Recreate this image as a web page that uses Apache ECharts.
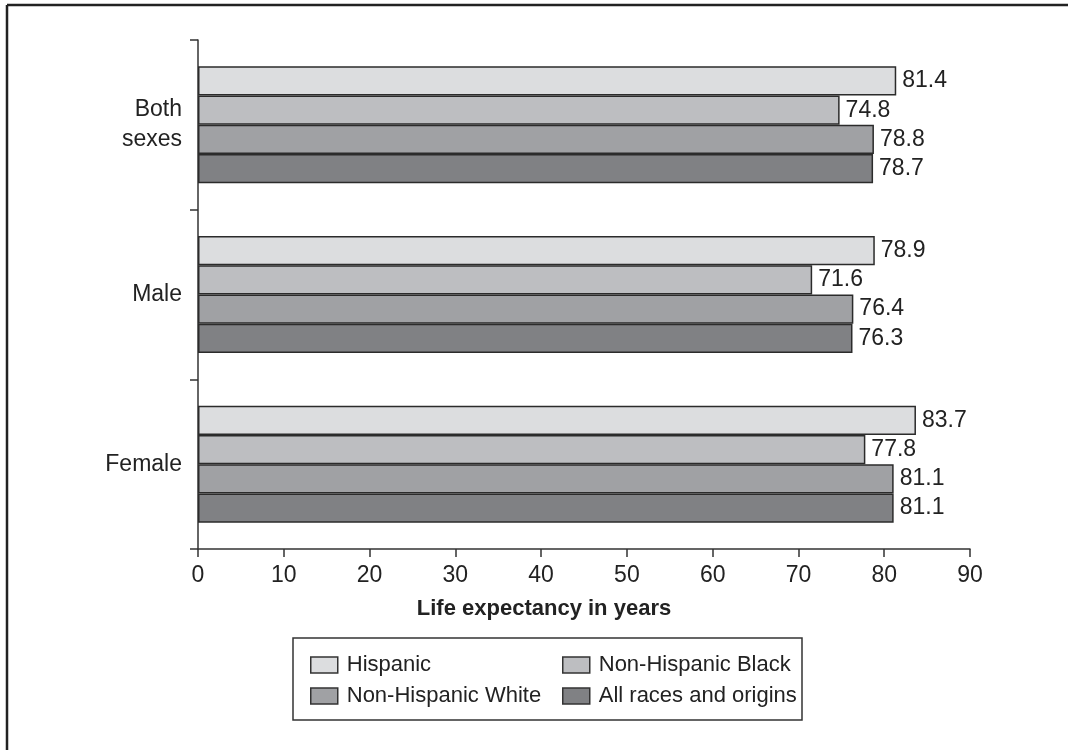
<!DOCTYPE html>
<html>
<head>
<meta charset="utf-8">
<script src="https://cdn.jsdelivr.net/npm/echarts@6/dist/echarts.min.js"></script>
<style>
  html, body { margin: 0; padding: 0; background: #fff; }
  #chart { width: 1068px; height: 750px; }
</style>
</head>
<body>
<div id="chart"></div>
<script>
// categories, top to bottom
let groups = ['Both\nsexes', 'Male', 'Female']
let seriesNames = ['Hispanic', 'Non-Hispanic Black', 'Non-Hispanic White', 'All races and origins']
let hispanic = [81.4, 78.9, 83.7]
let nonHispanicBlack = [74.8, 71.6, 77.8]
let nonHispanicWhite = [78.8, 76.4, 81.1]
let allRaces = [78.7, 76.3, 81.1]
let xTicks = [0, 10, 20, 30, 40, 50, 60, 70, 80, 90]

let values = [hispanic, nonHispanicBlack, nonHispanicWhite, allRaces]
let fills = ['#dcdddf', '#bdbec1', '#a0a1a4', '#808184']
let font = '"Liberation Sans", Arial, Helvetica, sans-serif'
let ink = '#222'

let chart = echarts.init(document.getElementById('chart'))

let series = seriesNames.map((name, i) => {
  return {
    name: name,
    type: 'bar',
    data: values[i],
    barGap: 0,
    barCategoryGap: '31%',
    itemStyle: { color: fills[i], borderColor: '#2b2b2b', borderWidth: 1.5 },
    label: {
      show: true,
      position: 'right',
      distance: 6,
      fontFamily: font,
      fontSize: 23,
      color: ink,
      formatter: p => p.value.toFixed(1)
    },
    emphasis: { disabled: true }
  }
})

let legendCommon = {
  orient: 'vertical',
  icon: 'rect',
  itemWidth: 27,
  itemHeight: 16,
  itemGap: 9,
  itemStyle: { borderColor: '#333', borderWidth: 1.5 },
  textStyle: { fontFamily: font, fontSize: 22, color: ink, padding: [0, 0, 0, 4] },
  selectedMode: false
}

chart.setOption({
  animation: false,
  textStyle: { fontFamily: font },
  grid: { left: 198, right: 98, top: 40, bottom: 201 },
  xAxis: {
    type: 'value',
    min: xTicks[0],
    max: xTicks[xTicks.length - 1],
    interval: 10,
    splitLine: { show: false },
    axisLine: { show: true, lineStyle: { color: '#333', width: 1.5 } },
    axisTick: { show: true, length: 8, lineStyle: { color: '#333', width: 1.5 } },
    axisLabel: { fontFamily: font, fontSize: 23, color: ink, margin: 15 }
  },
  yAxis: {
    type: 'category',
    data: groups,
    inverse: true,
    axisLine: { show: true, lineStyle: { color: '#333', width: 1.5 } },
    axisTick: { show: true, length: 8, alignWithLabel: false, lineStyle: { color: '#333', width: 1.5 } },
    axisLabel: { fontFamily: font, fontSize: 23, lineHeight: 30, color: ink, margin: 16, align: 'right' }
  },
  legend: [
    Object.assign({ left: 305, top: 649, data: [seriesNames[0], seriesNames[2]] }, legendCommon),
    Object.assign({ left: 557, top: 649, data: [seriesNames[1], seriesNames[3]] }, legendCommon)
  ],
  graphic: [
    {
      type: 'line',
      shape: { x1: 7, y1: 5, x2: 1068, y2: 5 },
      style: { stroke: '#222', lineWidth: 2.5 }
    },
    {
      type: 'line',
      shape: { x1: 7, y1: 5, x2: 7, y2: 750 },
      style: { stroke: '#222', lineWidth: 2.5 }
    },
    {
      type: 'text',
      x: 544,
      y: 609,
      style: {
        text: 'Life expectancy in years',
        fontFamily: font,
        fontSize: 22,
        fontWeight: 'bold',
        fill: ink,
        align: 'center',
        verticalAlign: 'middle'
      }
    },
    {
      type: 'rect',
      shape: { x: 293, y: 638, width: 509, height: 82 },
      style: { fill: 'none', stroke: '#333', lineWidth: 1.5 }
    }
  ],
  series: series
})
</script>
</body>
</html>
